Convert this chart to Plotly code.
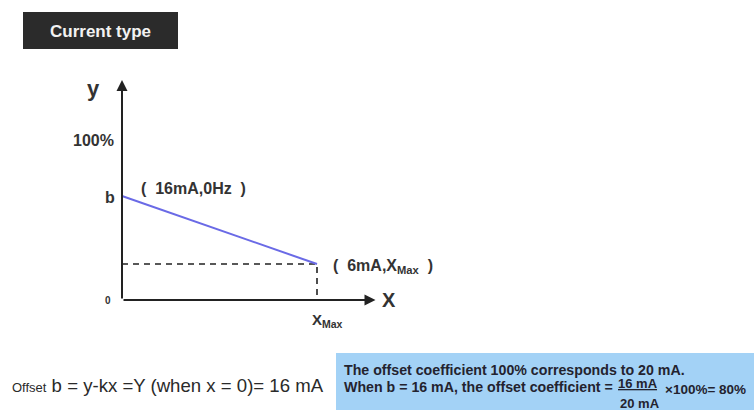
import plotly.graph_objects as go

# ---- data (normalised units: XMax = 100, y in % of full scale) ----
line_x = [0, 100]            # x = 0 and x = XMax
line_y = [65, 22.5]          # b (16mA) down to the 6mA point
dash_x = [0, 100, 100]
dash_y = [22.5, 22.5, 0]
axis_x_end = 130             # x-axis arrow tip
axis_y_end = 137.5           # y-axis arrow tip
y_ticks = [100, 65, 0]
y_tick_labels = ["100%", "b", "0"]
point_labels = ["(  16mA,0Hz  )", "(  6mA,X<sub>Max</sub>  )"]

FONT = "Liberation Sans, Arial, sans-serif"
W, H = 754, 410
# pixel mapping: x=0 -> px 122, x=100 -> px 317; y=0 -> py 300, y=100 -> py 140
sx = 1.95
sy = 1.6
x0p, y0p = 122, 300
xr = [-x0p / sx, (W - x0p) / sx]
yr = [-(H - y0p) / sy, y0p / sy]

def px(xp):
    return (xp - x0p) / sx

def py(yp):
    return (y0p - yp) / sy

TXT = "#333333"
fig = go.Figure()

# dashed guide lines
fig.add_trace(go.Scatter(x=dash_x, y=dash_y, mode="lines",
                         line=dict(color="#222222", width=1.6, dash="6px,5px"),
                         hoverinfo="skip", showlegend=False))
# blue characteristic line
fig.add_trace(go.Scatter(x=line_x, y=line_y, mode="lines",
                         line=dict(color="#6a6ae6", width=2),
                         hoverinfo="skip", showlegend=False))

ann = []
# axes with arrows
ann.append(dict(x=axis_x_end, y=0, ax=0, ay=0, xref="x", yref="y", axref="x", ayref="y",
                showarrow=True, arrowhead=2, arrowsize=1.1, arrowwidth=2, arrowcolor="#222222", text=""))
ann.append(dict(x=0, y=axis_y_end, ax=0, ay=0, xref="x", yref="y", axref="x", ayref="y",
                showarrow=True, arrowhead=2, arrowsize=1.1, arrowwidth=2, arrowcolor="#222222", text=""))

# axis names
ann.append(dict(x=px(93), y=py(88), text="<b>y</b>", showarrow=False,
                font=dict(family=FONT, size=22, color=TXT)))
ann.append(dict(x=px(389), y=py(300), text="<b>X</b>", showarrow=False,
                font=dict(family=FONT, size=20, color=TXT)))

# y tick labels
ann.append(dict(x=px(116), y=y_ticks[0], text="<b>" + y_tick_labels[0] + "</b>", showarrow=False,
                xanchor="right", font=dict(family=FONT, size=16, color=TXT)))
ann.append(dict(x=px(117), y=y_ticks[1] - 1, text="<b>" + y_tick_labels[1] + "</b>", showarrow=False,
                xanchor="right", font=dict(family=FONT, size=16, color=TXT)))
ann.append(dict(x=px(113), y=y_ticks[2], text="<b>" + y_tick_labels[2] + "</b>", showarrow=False,
                xanchor="right", font=dict(family=FONT, size=10, color=TXT)))
# x tick label
ann.append(dict(x=px(310), y=py(320), text="<b>X<sub>Max</sub></b>", showarrow=False,
                xanchor="left", font=dict(family=FONT, size=15, color=TXT)))

# point labels
ann.append(dict(x=px(139), y=py(188), text="<b>" + point_labels[0] + "</b>", showarrow=False,
                xanchor="left", font=dict(family=FONT, size=16, color=TXT)))
ann.append(dict(x=px(331), y=py(266), text="<b>" + point_labels[1] + "</b>", showarrow=False,
                xanchor="left", font=dict(family=FONT, size=16, color=TXT)))

# bottom-left formula
ann.append(dict(x=px(10), y=py(385), xanchor="left",
                text="<span style='font-size:13px'>Offset</span> b = y-kx =Y (when x = 0)= 16 mA",
                showarrow=False, font=dict(family=FONT, size=18.6, color="#2a2a2a")))

# blue box texts
BOX_TXT = "#23232f"
ann.append(dict(x=px(342), y=py(370), xanchor="left",
                text="<b>The offset coefficient 100% corresponds to 20 mA.</b>",
                showarrow=False, font=dict(family=FONT, size=14.2, color=BOX_TXT)))
ann.append(dict(x=px(342), y=py(387), xanchor="left",
                text="<b>When b = 16 mA, the offset coefficient =</b>",
                showarrow=False, font=dict(family=FONT, size=14.2, color=BOX_TXT)))
ann.append(dict(x=px(616), y=py(383), xanchor="left",
                text="<b><u>16 mA</u></b>",
                showarrow=False, font=dict(family=FONT, size=13, color=BOX_TXT)))
ann.append(dict(x=px(618), y=py(403), xanchor="left",
                text="<b>20 mA</b>",
                showarrow=False, font=dict(family=FONT, size=13, color=BOX_TXT)))
ann.append(dict(x=px(663), y=py(389), xanchor="left",
                text="<b>×100%= 80%</b>",
                showarrow=False, font=dict(family=FONT, size=13.5, color=BOX_TXT)))

# title box text
ann.append(dict(x=px(100), y=py(31), text="<b>Current type</b>", showarrow=False,
                font=dict(family=FONT, size=17, color="#f2f2f2")))

shapes = [
    dict(type="rect", xref="x", yref="y", x0=px(23), x1=px(178), y0=py(12), y1=py(49),
         fillcolor="#2b2b2b", line=dict(width=0), layer="below"),
    dict(type="rect", xref="x", yref="y", x0=px(336), x1=px(754), y0=py(353), y1=py(410),
         fillcolor="#a3d2f6", line=dict(width=0), layer="below"),
]

fig.update_layout(
    width=W, height=H,
    margin=dict(l=0, r=0, t=0, b=0),
    paper_bgcolor="white", plot_bgcolor="white",
    xaxis=dict(range=xr, visible=False, fixedrange=True),
    yaxis=dict(range=yr, visible=False, fixedrange=True),
    annotations=ann, shapes=shapes,
    showlegend=False,
)

fig.write_html("out.html", config={"displayModeBar": False},
               post_script="document.body.style.margin='0';")
